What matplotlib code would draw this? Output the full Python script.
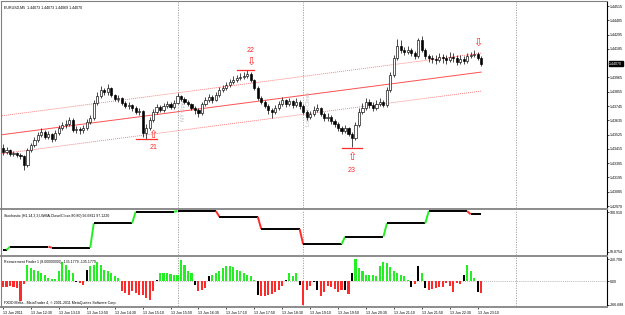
import numpy as np
import matplotlib
matplotlib.use('Agg')
import matplotlib.pyplot as plt
from matplotlib.lines import Line2D

plt.rcParams['font.family'] = ['Liberation Sans', 'DejaVu Sans']

# ---------------- data ----------------
first_open = 1.43422
close = [1.43391,1.43406,1.43375,1.43383,1.43368,1.43360,1.43291,1.43406,1.43445,1.43483,
         1.43522,1.43545,1.43506,1.43529,1.43491,1.43537,1.43576,1.43599,1.43606,1.43637,
         1.43560,1.43568,1.43560,1.43576,1.43622,1.43653,1.43768,1.43822,1.43868,1.43853,
         1.43884,1.43830,1.43799,1.43807,1.43768,1.43745,1.43753,1.43730,1.43699,1.43707,
         1.43537,1.43576,1.43637,1.43699,1.43737,1.43714,1.43745,1.43760,1.43737,1.43768,
         1.43822,1.43799,1.43776,1.43760,1.43730,1.43714,1.43691,1.43760,1.43791,1.43814,
         1.43791,1.43830,1.43868,1.43884,1.43907,1.43930,1.43945,1.43961,1.43968,1.43976,
         1.43991,1.43945,1.43884,1.43807,1.43776,1.43745,1.43714,1.43699,1.43730,1.43760,
         1.43791,1.43760,1.43784,1.43753,1.43776,1.43745,1.43699,1.43660,1.43683,1.43714,
         1.43730,1.43683,1.43653,1.43660,1.43630,1.43606,1.43576,1.43553,1.43576,1.43529,
         1.43499,1.43599,1.43699,1.43730,1.43776,1.43753,1.43730,1.43760,1.43776,1.43753,
         1.43868,1.43984,1.44115,1.44207,1.44176,1.44161,1.44176,1.44153,1.44130,1.44253,
         1.44176,1.44130,1.44115,1.44107,1.44099,1.44122,1.44115,1.44099,1.44122,1.44115,
         1.44084,1.44107,1.44092,1.44130,1.44138,1.44145,1.44115,1.44070]
high = [1.43452,1.43429,1.43414,1.43399,1.43391,1.43383,1.43368,1.43422,1.43460,1.43506,
        1.43545,1.43576,1.43560,1.43553,1.43537,1.43560,1.43599,1.43622,1.43637,1.43660,
        1.43653,1.43591,1.43583,1.43599,1.43645,1.43676,1.43791,1.43853,1.43899,1.43884,
        1.43914,1.43891,1.43837,1.43830,1.43814,1.43784,1.43776,1.43760,1.43745,1.43730,
        1.43714,1.43606,1.43660,1.43722,1.43760,1.43753,1.43768,1.43784,1.43776,1.43791,
        1.43845,1.43830,1.43814,1.43791,1.43768,1.43745,1.43730,1.43776,1.43814,1.43837,
        1.43830,1.43853,1.43891,1.43907,1.43930,1.43953,1.43976,1.43984,1.43999,1.44007,
        1.44022,1.44007,1.43953,1.43899,1.43822,1.43791,1.43760,1.43730,1.43753,1.43784,
        1.43814,1.43799,1.43807,1.43791,1.43807,1.43791,1.43760,1.43714,1.43707,1.43745,
        1.43760,1.43737,1.43699,1.43691,1.43676,1.43645,1.43622,1.43591,1.43599,1.43583,
        1.43545,1.43622,1.43730,1.43768,1.43807,1.43799,1.43776,1.43791,1.43807,1.43791,
        1.43891,1.44007,1.44138,1.44261,1.44253,1.44199,1.44207,1.44192,1.44169,1.44269,
        1.44284,1.44192,1.44145,1.44138,1.44138,1.44153,1.44145,1.44138,1.44161,1.44153,
        1.44138,1.44138,1.44130,1.44153,1.44161,1.44176,1.44161,1.44130]
low = [1.43368,1.43375,1.43360,1.43360,1.43352,1.43337,1.43252,1.43275,1.43391,1.43429,
       1.43468,1.43506,1.43491,1.43491,1.43468,1.43476,1.43522,1.43560,1.43576,1.43591,
       1.43545,1.43537,1.43529,1.43537,1.43560,1.43606,1.43637,1.43753,1.43807,1.43830,
       1.43830,1.43814,1.43784,1.43776,1.43753,1.43730,1.43722,1.43707,1.43683,1.43676,
       1.43506,1.43491,1.43560,1.43622,1.43683,1.43699,1.43699,1.43730,1.43722,1.43722,
       1.43760,1.43784,1.43760,1.43745,1.43714,1.43683,1.43660,1.43676,1.43745,1.43776,
       1.43768,1.43784,1.43814,1.43853,1.43868,1.43891,1.43914,1.43930,1.43945,1.43953,
       1.43961,1.43930,1.43868,1.43791,1.43760,1.43730,1.43683,1.43653,1.43683,1.43714,
       1.43745,1.43737,1.43745,1.43730,1.43737,1.43722,1.43683,1.43637,1.43645,1.43668,
       1.43699,1.43668,1.43630,1.43630,1.43606,1.43583,1.43553,1.43529,1.43537,1.43514,
       1.43429,1.43483,1.43583,1.43683,1.43714,1.43730,1.43707,1.43714,1.43745,1.43737,
       1.43737,1.43853,1.43968,1.44099,1.44153,1.44138,1.44145,1.44130,1.44107,1.44115,
       1.44161,1.44107,1.44084,1.44076,1.44068,1.44084,1.44076,1.44068,1.44084,1.44084,
       1.44061,1.44068,1.44068,1.44076,1.44115,1.44122,1.44099,1.44053]

# regression channel (anchor bars / prices, half width)
chan_bars = [0, 137]
chan_mid = [1.43525, 1.44006]
chan_half = 0.00146

# swing signals
sig_labels = ['21', '22', '23']
sig_bar = [43, 71, 100]
sig_dir = ['up', 'down', 'up']
sig_level = [1.43491, 1.44022, 1.43422]
sig_span = [(38, 44), (67, 72), (97, 103)]
sig_arrow_price = [1.43522, 1.44084, 1.43352]
sig_text_price = [1.43422, 1.44176, 1.43252]
last_arrow_bar, last_arrow_price = 136, 1.44230

# period separators (bar positions)
sep_bars = [50, 86, 147]
sep_text = {50: 'NY Open', 86: 'London Close'}

price_ticks = [1.44515, 1.44405, 1.44295, 1.44185, 1.43965, 1.43855, 1.43745,
               1.43635, 1.43525, 1.43415, 1.43305, 1.43195, 1.43085, 1.42975]
price_tick_labels = ['1.44515', '1.44405', '1.44295', '1.44185', '1.43965', '1.43855', '1.43745',
                     '1.43635', '1.43525', '1.43415', '1.43305', '1.43195', '1.43085', '1.42970']

time_tick_bars = [0, 8, 16, 24, 32, 40, 48, 56, 64, 72, 80, 88, 96, 104, 112, 120, 128, 136]
time_tick_labels = ['13 Jun 2011', '13 Jun 12:30', '13 Jun 13:10', '13 Jun 13:50', '13 Jun 14:30',
                    '13 Jun 15:10', '13 Jun 15:50', '13 Jun 16:30', '13 Jun 17:10', '13 Jun 17:50',
                    '13 Jun 18:30', '13 Jun 19:10', '13 Jun 19:50', '13 Jun 20:30', '13 Jun 21:10',
                    '13 Jun 21:50', '13 Jun 22:30', '13 Jun 23:10']

# stochastic (H1 values on M5 bars)
stoch_hour_start = [0, 2, 14, 26, 38, 50, 62, 74, 86, 98, 110, 122, 134]
stoch_hour_value = [4.9, 12.9, 10.5, 70.0, 98.3, 99.9, 86.1, 56.1, 18.8, 37.3, 70.0, 99.9, 92.0]
stoch_axis_labels = [(97.0, '100.910'), (0.0, '99.8754')]

# retracement finder histogram
retr = [-68,-68,-57,-68,-80,-228,-34,182,148,125,
        114,91,68,34,23,23,114,217,182,125,
        91,-11,-23,-46,125,171,182,217,182,125,
        114,91,57,34,-114,-137,-160,-114,-137,-160,
        -160,-194,-217,-114,11,91,91,91,80,68,
        68,239,182,114,91,-46,-114,-103,-80,57,
        68,91,114,148,171,171,160,125,114,91,
        68,57,11,-160,-171,-171,-160,-148,-125,-103,
        -57,11,91,57,91,-46,-266.688,-103,-57,-11,
        -103,-171,-125,-57,-68,-91,-125,-103,-103,-148,
        91,250.708,148,114,68,68,68,57,171,217,
        205,160,114,91,68,57,11,-68,-34,171,
        91,-80,-103,-91,-80,-68,-68,-23,-57,-125,
        -23,-34,68,182,114,34,-125,-135.1779]
retr_color = ("rrrrrrrggg" "gggggggggg" "gkrrkggggg" "ggggrrrrrr" "rrrrkggggg"
              "gggggkrrrk" "gggggggggg" "gggkrrrrrr" "rkgggkrrrk" "krrrrrrrkr"
              "kggggggggg" "gggggggkrk" "gkrrrrrrrr" "rrkgggkr")
retr_axis_labels = [(250.708, '250.708'), (0.0, '0.00'), (-266.688, '-266.688')]

# ---------------- figure ----------------
W, H = 625, 315
fig = plt.figure(figsize=(W / 100, H / 100), dpi=100)
fig.patch.set_facecolor('white')
FS = 2.6
GREEN = '#22f022'
RED = '#ff2a2a'

def rect(x0, y0, x1, y1):
    return [x0 / W, 1 - y1 / H, (x1 - x0) / W, (y1 - y0) / H]

ax = fig.add_axes(rect(2, 2, 607, 208))
axs = fig.add_axes(rect(2, 210, 607, 255))
axr = fig.add_axes(rect(2, 257, 607, 306))

XL = (-0.29, 173.07)
for a in (ax, axs, axr):
    a.set_xlim(*XL)
    a.set_facecolor('white')
    for s in ('top', 'bottom', 'left'):
        a.spines[s].set_visible(False)
    a.spines['right'].set_linewidth(0.8)
    a.set_xticks([])

n = len(close)
xb = np.arange(n)
close_a = np.array(close)
opens = np.concatenate([[first_open], close_a[:-1]])

# channel
xs = np.array([-0.3, chan_bars[1]])
slope = (chan_mid[1] - chan_mid[0]) / (chan_bars[1] - chan_bars[0])
mid = chan_mid[0] + slope * (xs - chan_bars[0])
ax.plot(xs, mid, color='#ff5050', lw=0.7, zorder=1)
ax.plot(xs, mid + chan_half, color='#ff7070', lw=0.6, ls=(0, (1.2, 1.2)), zorder=1)
ax.plot(xs, mid - chan_half, color='#ff7070', lw=0.6, ls=(0, (1.2, 1.2)), zorder=1)

# candles
for i in range(n):
    o, c, h, l = opens[i], close[i], high[i], low[i]
    ax.vlines(i, min(l, o, c), max(h, o, c), color='black', lw=0.5, zorder=3)
    bull = c >= o
    ax.bar(i, max(abs(c - o), 0.00002), bottom=min(o, c), width=0.62,
           color='white' if bull else 'black', edgecolor='black', linewidth=0.45, zorder=4)

ax.set_ylim(1.429596, 1.445458)
ax.yaxis.tick_right()
ax.set_yticks(price_ticks)
ax.set_yticklabels(price_tick_labels)
ax.tick_params(axis='y', direction='out', length=1.5, width=0.5, pad=0.8, labelsize=FS)

# current price box
ax.annotate('1.44070', xy=(1.0, close[-1]), xycoords=('axes fraction', 'data'),
            xytext=(1.6, 0), textcoords='offset points', ha='left', va='center',
            fontsize=FS, color='white',
            bbox=dict(boxstyle='square,pad=0.12', fc='black', ec='black'))

# separators
for a in (ax, axs, axr):
    for sb in sep_bars:
        a.axvline(sb, color='#9a9a9a', lw=0.6, ls=(0, (1.5, 1.5)), zorder=0)
for sb, t in sep_text.items():
    ax.text(sb + 0.9, 1.4372, t, rotation=90, fontsize=4, color='#c0c0c0',
            ha='left', va='center', zorder=2)

# signals
for lab, b, d, lvl, sp, ap, tp in zip(sig_labels, sig_bar, sig_dir, sig_level, sig_span,
                                     sig_arrow_price, sig_text_price):
    ax.plot(sp, [lvl, lvl], color=RED, lw=0.9, zorder=5)
    ax.text(b, ap, '\u21e7' if d == 'up' else '\u21e9', fontsize=8, color=RED,
            ha='center', va='center', zorder=6, family='DejaVu Sans')
    ax.text(b, tp, lab, fontsize=5, color=RED, ha='center', va='center', zorder=6)
ax.text(last_arrow_bar, last_arrow_price, '\u21e9', fontsize=8, color=RED,
        ha='center', va='center', zorder=6, family='DejaVu Sans')

ax.text(0.003, 0.975, 'EURUSD,M5  1.44073 1.44073 1.44069 1.44070', transform=ax.transAxes,
        fontsize=FS, ha='left', va='center', color='black')

# stochastic
st = np.zeros(n)
for k, s0 in enumerate(stoch_hour_start):
    e0 = stoch_hour_start[k + 1] if k + 1 < len(stoch_hour_start) else n
    st[s0:e0] = stoch_hour_value[k]
for i in range(1, n):
    d = st[i] - st[i - 1]
    col = GREEN if d > 0 else (RED if d < 0 else 'black')
    axs.plot([i - 1, i], [st[i - 1], st[i]], color=col, lw=1.4, solid_capstyle='butt')
axs.set_ylim(-7.32, 102.44)
axs.yaxis.tick_right()
axs.set_yticks([v for v, _ in stoch_axis_labels])
axs.set_yticklabels([t for _, t in stoch_axis_labels])
axs.tick_params(axis='y', direction='out', length=1.5, width=0.5, pad=0.8, labelsize=FS)
axs.text(0.003, 0.86, 'Stochastic (H1,14,3,3,LWMA,Close/Close,80,80) 96.6811 97.1220',
         transform=axs.transAxes, fontsize=FS, ha='left', va='center')

# retracement histogram
cmap = {'g': GREEN, 'r': RED, 'k': 'black'}
axr.bar(xb, retr, width=0.6, color=[cmap[c] for c in retr_color], linewidth=0)
axr.axhline(0, color='#a0a0a0', lw=0.5, ls=(0, (1.5, 1.5)), zorder=0)
axr.set_ylim(-281.6, 277.0)
axr.yaxis.tick_right()
axr.set_yticks([v for v, _ in retr_axis_labels])
axr.set_yticklabels([t for _, t in retr_axis_labels])
axr.tick_params(axis='y', direction='out', length=1.5, width=0.5, pad=0.8, labelsize=FS)
axr.text(0.003, 0.9, 'Retracement Finder 1 (8.00000000) -135.1779 -135.1779',
         transform=axr.transAxes, fontsize=FS, ha='left', va='center')
axr.text(0.003, 0.07, 'FXDD Malta - MetaTrader 4, \u00a9 2001-2011 MetaQuotes Software Corp.',
         transform=axr.transAxes, fontsize=FS, ha='left', va='center')

# time axis
axr.set_xticks(time_tick_bars)
axr.set_xticklabels(time_tick_labels, ha='left')
axr.tick_params(axis='x', direction='out', length=2, width=0.5, pad=1.5, labelsize=FS)

# panel frames
for y in (209.2, 256.0, 306.6):
    fig.add_artist(Line2D([1 / W, 607 / W], [1 - y / H, 1 - y / H], color='#8c8c8c', lw=1.4))
fig.add_artist(Line2D([1 / W, 1 / W], [1 - 1 / H, 1 - 307 / H], color='#808080', lw=0.8))
fig.add_artist(Line2D([1 / W, 607 / W], [1 - 1 / H, 1 - 1 / H], color='#808080', lw=0.8))

fig.savefig('out.png', dpi=100, facecolor='white')
